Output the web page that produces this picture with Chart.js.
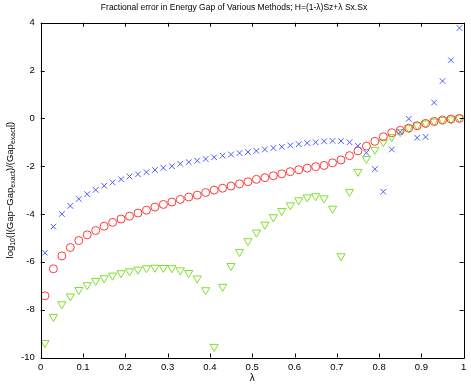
<!DOCTYPE html>
<html>
<head>
<meta charset="utf-8">
<script src="https://cdn.jsdelivr.net/npm/chart.js@4/dist/chart.umd.min.js"></script>
<style>
  html, body { margin: 0; padding: 0; background: #fff; }
  #wrap { width: 471px; height: 384px; }
</style>
</head>
<body>
<div id="wrap"><canvas id="gapChart"></canvas></div>
<script>
// lambda values (x)
const lambdas = [0.01, 0.03, 0.05, 0.07, 0.09, 0.11, 0.13, 0.15, 0.17, 0.19,
  0.21, 0.23, 0.25, 0.27, 0.29, 0.31, 0.33, 0.35, 0.37, 0.39,
  0.41, 0.43, 0.45, 0.47, 0.49, 0.51, 0.53, 0.55, 0.57, 0.59,
  0.61, 0.63, 0.65, 0.67, 0.69, 0.71, 0.73, 0.75, 0.77, 0.79,
  0.81, 0.83, 0.85, 0.87, 0.89, 0.91, 0.93, 0.95, 0.97, 0.99];

// blue crosses
const crossErr = [-5.62, -4.53, -4.00, -3.66, -3.37, -3.17, -2.99, -2.82, -2.68, -2.55,
  -2.43, -2.34, -2.25, -2.16, -2.07, -2.00, -1.90, -1.83, -1.77, -1.70,
  -1.63, -1.56, -1.51, -1.45, -1.41, -1.36, -1.30, -1.24, -1.19, -1.13,
  -1.08, -1.03, -1.00, -0.96, -0.94, -0.95, -1.00, -1.15, -1.44, -2.12,
  -3.07, -1.30, -0.57, -0.02, -0.81, -0.78, 0.66, 1.56, 2.43, 3.78];

// red circles
const circleErr = [-7.42, -6.29, -5.75, -5.40, -5.11, -4.87, -4.69, -4.51, -4.35, -4.21,
  -4.09, -3.96, -3.84, -3.71, -3.60, -3.50, -3.39, -3.29, -3.21, -3.10,
  -3.00, -2.92, -2.83, -2.74, -2.65, -2.55, -2.48, -2.40, -2.32, -2.23,
  -2.15, -2.08, -2.02, -1.97, -1.86, -1.74, -1.56, -1.36, -1.16, -0.96,
  -0.77, -0.60, -0.50, -0.41, -0.31, -0.21, -0.13, -0.07, -0.03, 0.00];

// green triangles
const triangleErr = [-9.39, -8.30, -7.77, -7.44, -7.17, -6.97, -6.79, -6.68, -6.57, -6.47,
  -6.39, -6.32, -6.26, -6.24, -6.25, -6.26, -6.35, -6.46, -6.69, -7.18,
  -9.55, -7.04, -6.17, -5.58, -5.13, -4.77, -4.44, -4.13, -3.87, -3.63,
  -3.42, -3.30, -3.25, -3.34, -3.77, -5.76, -3.07, -2.23, -1.69, -1.31,
  -0.99, -0.78, -0.57, -0.41, -0.29, -0.21, -0.13, -0.07, -0.04, 0.01];

const xTicks = [0, 0.1, 0.2, 0.3, 0.4, 0.5, 0.6, 0.7, 0.8, 0.9, 1];
const yTicks = [-10, -8, -6, -4, -2, 0, 2, 4];

const titleText = "Fractional error in Energy Gap of Various Methods; H=(1-\u03bb)Sz+\u03bb Sx.Sx";
const xLabel = "\u03bb";
// y label pieces: [text, isSubscript]
const yLabelParts = [["log", false], ["10", true], ["(|(Gap\u2212Gap", false], ["exact", true],
  [")/(Gap", false], ["exact", true], ["|)", false]];

const FONT = "'Liberation Sans', Arial, Helvetica, sans-serif";

function toPoints(ys) {
  return lambdas.map((x, i) => ({ x: x, y: ys[i] }));
}

// box, inward ticks and texts like a matlab figure
const matlabFrame = {
  id: "matlabFrame",
  afterDraw(chart) {
    const ctx = chart.ctx;
    const area = chart.chartArea;
    const xs = chart.scales.x;
    const ys = chart.scales.y;
    const tl = 4;

    ctx.save();
    ctx.strokeStyle = "#000";
    ctx.lineWidth = 1;
    ctx.beginPath();
    ctx.rect(Math.round(area.left) + 0.5, Math.round(area.top) + 0.5,
      Math.round(area.right - area.left), Math.round(area.bottom - area.top));
    ctx.stroke();

    ctx.beginPath();
    xTicks.forEach((v) => {
      const px = Math.round(xs.getPixelForValue(v)) + 0.5;
      ctx.moveTo(px, area.bottom);
      ctx.lineTo(px, area.bottom - tl);
      ctx.moveTo(px, area.top);
      ctx.lineTo(px, area.top + tl);
    });
    yTicks.forEach((v) => {
      const py = Math.round(ys.getPixelForValue(v)) + 0.5;
      ctx.moveTo(area.left, py);
      ctx.lineTo(area.left + tl, py);
      ctx.moveTo(area.right, py);
      ctx.lineTo(area.right - tl, py);
    });
    ctx.stroke();

    // title
    ctx.fillStyle = "#000";
    ctx.font = "8.5px " + FONT;
    ctx.textAlign = "center";
    ctx.textBaseline = "middle";
    ctx.fillText(titleText, 234, 8);

    // x label
    ctx.font = "10px " + FONT;
    ctx.fillText(xLabel, (area.left + area.right) / 2, 378);

    // y label, rotated, with subscripts
    const mainFont = "9.5px " + FONT;
    const subFont = "7px " + FONT;
    let total = 0;
    yLabelParts.forEach(([t, sub]) => {
      ctx.font = sub ? subFont : mainFont;
      total += ctx.measureText(t).width;
    });
    ctx.translate(10, (area.top + area.bottom) / 2);
    ctx.rotate(-Math.PI / 2);
    ctx.textAlign = "left";
    ctx.textBaseline = "middle";
    let cx = -total / 2;
    yLabelParts.forEach(([t, sub]) => {
      ctx.font = sub ? subFont : mainFont;
      ctx.fillText(t, cx, sub ? 3 : 0);
      cx += ctx.measureText(t).width;
    });
    ctx.restore();
  },
};

const data = {
  datasets: [
    {
      label: "cross",
      data: toPoints(crossErr),
      pointStyle: "crossRot",
      pointRadius: 4,
      borderColor: "#4a5cff",
      pointBorderWidth: 1,
      showLine: false,
    },
    {
      label: "circle",
      data: toPoints(circleErr),
      pointStyle: "circle",
      pointRadius: 4,
      borderColor: "#ff3a3a",
      backgroundColor: "rgba(0,0,0,0)",
      pointBorderWidth: 1,
      showLine: false,
    },
    {
      label: "triangle",
      data: toPoints(triangleErr),
      pointStyle: "triangle",
      pointRotation: 180,
      pointRadius: 4.7,
      borderColor: "#7ee02a",
      backgroundColor: "rgba(0,0,0,0)",
      pointBorderWidth: 1,
      showLine: false,
    },
  ],
};

const config = {
  type: "scatter",
  data,
  options: {
    responsive: false,
    animation: false,
    events: [],
    layout: { padding: { top: 22.7, right: 7.3, left: 0, bottom: 0 } },
    plugins: { legend: { display: false }, tooltip: { enabled: false } },
    scales: {
      x: {
        type: "linear",
        min: 0,
        max: 1,
        afterFit: (s) => { s.height = 26.5; },
        afterBuildTicks: (s) => { s.ticks = xTicks.map((v) => ({ value: v })); },
        grid: { display: false, drawTicks: false },
        border: { display: false },
        ticks: { color: "#000", padding: 4, font: { family: FONT, size: 9.5 }, maxRotation: 0,
          callback: (v) => String(Math.round(v * 10) / 10) },
      },
      y: {
        type: "linear",
        min: -10,
        max: 4,
        afterFit: (s) => { s.width = 40.7; },
        afterBuildTicks: (s) => { s.ticks = yTicks.map((v) => ({ value: v })); },
        grid: { display: false, drawTicks: false },
        border: { display: false },
        ticks: { color: "#000", padding: 6, font: { family: FONT, size: 9.5 },
          callback: (v) => String(v) },
      },
    },
  },
  plugins: [matlabFrame],
};

const canvas = document.getElementById("gapChart");
canvas.width = 471;
canvas.height = 384;
const chart = new Chart(canvas, config);
</script>
</body>
</html>
